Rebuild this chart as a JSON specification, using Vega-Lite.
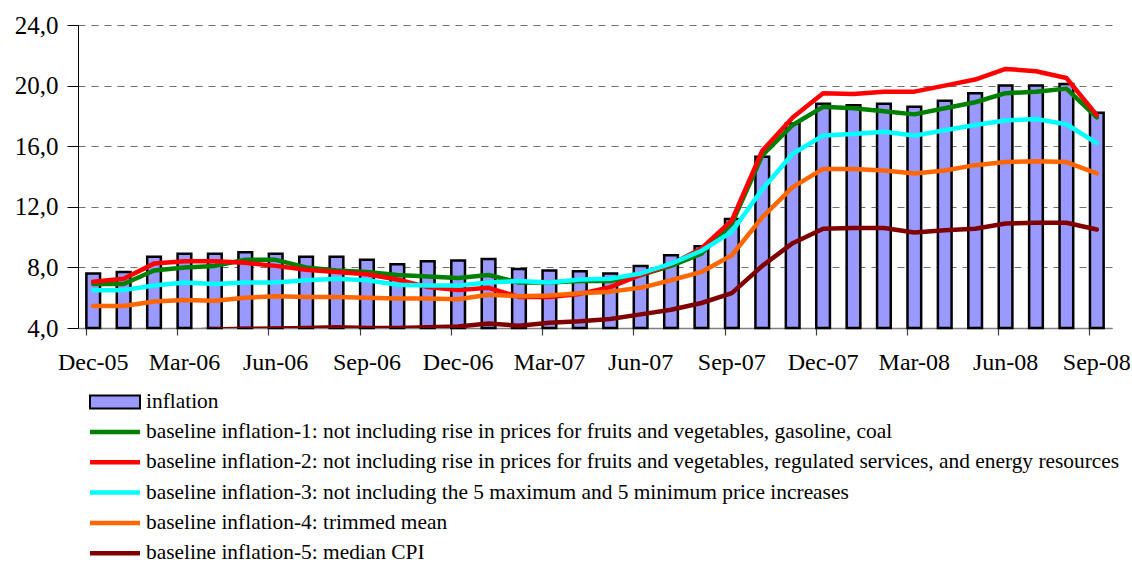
{
  "$schema": "https://vega.github.io/schema/vega-lite/v6.json",
  "autosize": "none",
  "width": 1034,
  "height": 303,
  "padding": {"left": 78, "top": 25, "right": 20, "bottom": 235},
  "background": "white",
  "config": {
    "view": {"stroke": null},
    "font": "Liberation Serif, Times New Roman, Times, DejaVu Serif, serif"
  },
  "data": {
    "values": [
      {"m": "Dec-05", "inflation": 7.6, "b1": 6.9, "b2": 7.05, "b3": 6.5, "b4": 5.45, "b5": 3.6},
      {"m": "Jan-06", "inflation": 7.7, "b1": 6.9, "b2": 7.25, "b3": 6.5, "b4": 5.45, "b5": 3.6},
      {"m": "Feb-06", "inflation": 8.7, "b1": 7.8, "b2": 8.25, "b3": 6.8, "b4": 5.75, "b5": 3.7},
      {"m": "Mar-06", "inflation": 8.9, "b1": 8.0, "b2": 8.4, "b3": 7.0, "b4": 5.85, "b5": 3.8},
      {"m": "Apr-06", "inflation": 8.9, "b1": 8.1, "b2": 8.4, "b3": 6.9, "b4": 5.8, "b5": 3.9},
      {"m": "May-06", "inflation": 9.0, "b1": 8.5, "b2": 8.3, "b3": 7.0, "b4": 6.0, "b5": 3.95},
      {"m": "Jun-06", "inflation": 8.9, "b1": 8.5, "b2": 8.1, "b3": 7.0, "b4": 6.1, "b5": 3.97},
      {"m": "Jul-06", "inflation": 8.7, "b1": 8.0, "b2": 7.85, "b3": 7.15, "b4": 6.05, "b5": 4.0},
      {"m": "Aug-06", "inflation": 8.7, "b1": 7.8, "b2": 7.7, "b3": 7.25, "b4": 6.05, "b5": 4.05},
      {"m": "Sep-06", "inflation": 8.5, "b1": 7.7, "b2": 7.55, "b3": 7.15, "b4": 6.0, "b5": 4.0},
      {"m": "Oct-06", "inflation": 8.2, "b1": 7.5, "b2": 7.2, "b3": 6.85, "b4": 5.95, "b5": 4.0},
      {"m": "Nov-06", "inflation": 8.4, "b1": 7.4, "b2": 6.7, "b3": 6.8, "b4": 5.95, "b5": 4.05},
      {"m": "Dec-06", "inflation": 8.45, "b1": 7.3, "b2": 6.5, "b3": 6.8, "b4": 5.9, "b5": 4.1},
      {"m": "Jan-07", "inflation": 8.55, "b1": 7.5, "b2": 6.65, "b3": 7.0, "b4": 6.2, "b5": 4.3},
      {"m": "Feb-07", "inflation": 7.9, "b1": 7.0, "b2": 6.05, "b3": 7.1, "b4": 6.1, "b5": 4.15},
      {"m": "Mar-07", "inflation": 7.8, "b1": 7.0, "b2": 6.05, "b3": 7.0, "b4": 6.15, "b5": 4.35},
      {"m": "Apr-07", "inflation": 7.75, "b1": 7.1, "b2": 6.25, "b3": 7.2, "b4": 6.3, "b5": 4.45},
      {"m": "May-07", "inflation": 7.6, "b1": 7.1, "b2": 6.7, "b3": 7.25, "b4": 6.4, "b5": 4.6},
      {"m": "Jun-07", "inflation": 8.1, "b1": 7.5, "b2": 7.5, "b3": 7.6, "b4": 6.65, "b5": 4.9},
      {"m": "Jul-07", "inflation": 8.8, "b1": 8.1, "b2": 8.2, "b3": 8.25, "b4": 7.15, "b5": 5.2},
      {"m": "Aug-07", "inflation": 9.4, "b1": 8.9, "b2": 9.25, "b3": 9.1, "b4": 7.7, "b5": 5.65},
      {"m": "Sep-07", "inflation": 11.2, "b1": 10.9, "b2": 11.1, "b3": 10.35, "b4": 8.8, "b5": 6.3},
      {"m": "Oct-07", "inflation": 15.3, "b1": 15.4, "b2": 15.7, "b3": 13.15, "b4": 11.3, "b5": 8.1},
      {"m": "Nov-07", "inflation": 17.5, "b1": 17.4, "b2": 17.9, "b3": 15.5, "b4": 13.3, "b5": 9.6},
      {"m": "Dec-07", "inflation": 18.8, "b1": 18.6, "b2": 19.5, "b3": 16.7, "b4": 14.5, "b5": 10.55},
      {"m": "Jan-08", "inflation": 18.7, "b1": 18.5, "b2": 19.45, "b3": 16.8, "b4": 14.5, "b5": 10.6},
      {"m": "Feb-08", "inflation": 18.8, "b1": 18.3, "b2": 19.6, "b3": 16.95, "b4": 14.4, "b5": 10.6},
      {"m": "Mar-08", "inflation": 18.6, "b1": 18.1, "b2": 19.6, "b3": 16.7, "b4": 14.2, "b5": 10.3},
      {"m": "Apr-08", "inflation": 19.0, "b1": 18.5, "b2": 20.0, "b3": 17.05, "b4": 14.4, "b5": 10.45},
      {"m": "May-08", "inflation": 19.5, "b1": 18.9, "b2": 20.4, "b3": 17.4, "b4": 14.75, "b5": 10.55},
      {"m": "Jun-08", "inflation": 20.0, "b1": 19.5, "b2": 21.1, "b3": 17.7, "b4": 14.95, "b5": 10.9},
      {"m": "Jul-08", "inflation": 20.0, "b1": 19.6, "b2": 20.95, "b3": 17.8, "b4": 15.0, "b5": 10.95},
      {"m": "Aug-08", "inflation": 20.1, "b1": 19.8, "b2": 20.5, "b3": 17.45, "b4": 14.95, "b5": 10.95},
      {"m": "Sep-08", "inflation": 18.2, "b1": 17.9, "b2": 18.05, "b3": 16.2, "b4": 14.2, "b5": 10.5}
    ]
  },
  "transform": [
    {"fold": ["inflation", "b1", "b2", "b3", "b4", "b5"], "as": ["series", "value"]}
  ],
  "encoding": {
    "x": {
      "field": "m",
      "type": "nominal",
      "sort": null,
      "scale": {"paddingInner": 0.55, "paddingOuter": 0.275},
      "axis": {
        "title": null,
        "values": ["Dec-05", "Mar-06", "Jun-06", "Sep-06", "Dec-06", "Mar-07", "Jun-07", "Sep-07", "Dec-07", "Mar-08", "Jun-08", "Sep-08"],
        "bandPosition": 0,
        "labelOffset": 0,
        "labelAngle": 0,
        "labelOverlap": false,
        "labelBound": false,
        "labelFont": "Liberation Serif, Times New Roman, Times, DejaVu Serif, serif",
        "labelFontSize": 24,
        "labelColor": "black",
        "labelPadding": 15,
        "tickSize": 7,
        "tickColor": "#404040",
        "tickWidth": 1.2,
        "domainColor": "#808080",
        "domainWidth": 1.5,
        "grid": false
      }
    },
    "y": {
      "field": "value",
      "type": "quantitative",
      "scale": {"domain": [4, 24], "nice": false, "zero": false},
      "axis": {
        "title": null,
        "values": [4, 8, 12, 16, 20, 24],
        "labelExpr": "replace(format(datum.value, '.1f'), '.', ',')",
        "labelFont": "Liberation Serif, Times New Roman, Times, DejaVu Serif, serif",
        "labelFontSize": 25,
        "labelColor": "black",
        "labelPadding": 9,
        "tickSize": 11,
        "tickColor": "black",
        "domainColor": "black",
        "grid": true,
        "gridColor": "#707070",
        "gridDash": [7, 6],
        "gridWidth": 1.2
      }
    }
  },
  "layer": [
    {
      "transform": [{"filter": "datum.series === 'inflation'"}],
      "mark": {"type": "bar", "stroke": "black", "strokeWidth": 2.5, "opacity": 1},
      "encoding": {
        "y2": {"datum": 4},
        "fill": {
          "field": "series",
          "type": "nominal",
          "scale": {"domain": ["inflation"], "range": ["#9999FF"]},
          "legend": {
            "orient": "none",
            "legendX": 11,
            "legendY": 369,
            "direction": "vertical",
            "title": null,
            "padding": 0,
            "symbolType": "M-1,-0.26H1V0.26H-1Z",
            "symbolSize": 2500,
            "symbolStrokeWidth": 2,
            "symbolStrokeColor": "black",
            "symbolOpacity": 1,
            "clipHeight": 16,
            "labelOffset": 5,
            "labelFont": "Liberation Serif, Times New Roman, Times, DejaVu Serif, serif",
            "labelFontSize": 21.4,
            "labelColor": "black",
            "labelLimit": 1100
          }
        }
      }
    },
    {
      "transform": [{"filter": "datum.series !== 'inflation'"}],
      "mark": {"type": "line", "strokeWidth": 4.5, "strokeJoin": "round", "strokeCap": "round", "clip": true},
      "encoding": {
        "stroke": {
          "field": "series",
          "type": "nominal",
          "scale": {
            "domain": ["b1", "b2", "b3", "b4", "b5"],
            "range": ["#008000", "#FF0000", "#00FFFF", "#FF6600", "#800000"]
          },
          "legend": {
            "orient": "none",
            "legendX": 9.5,
            "legendY": 399,
            "direction": "vertical",
            "title": null,
            "padding": 0,
            "symbolType": "stroke",
            "symbolSize": 2500,
            "symbolStrokeWidth": 4.5,
            "symbolOpacity": 1,
            "clipHeight": 16,
            "rowPadding": 8.3,
            "labelOffset": 3.5,
            "labelFont": "Liberation Serif, Times New Roman, Times, DejaVu Serif, serif",
            "labelFontSize": 21.4,
            "labelColor": "black",
            "labelLimit": 1100,
            "labelExpr": "datum.label === 'b1' ? 'baseline inflation-1: not including rise in prices for fruits and vegetables, gasoline, coal' : datum.label === 'b2' ? 'baseline inflation-2: not including rise in prices for fruits and vegetables, regulated services, and energy resources' : datum.label === 'b3' ? 'baseline inflation-3: not including the 5 maximum and 5 minimum price increases' : datum.label === 'b4' ? 'baseline inflation-4: trimmed mean' : 'baseline inflation-5: median CPI'"
          }
        }
      }
    }
  ]
}
